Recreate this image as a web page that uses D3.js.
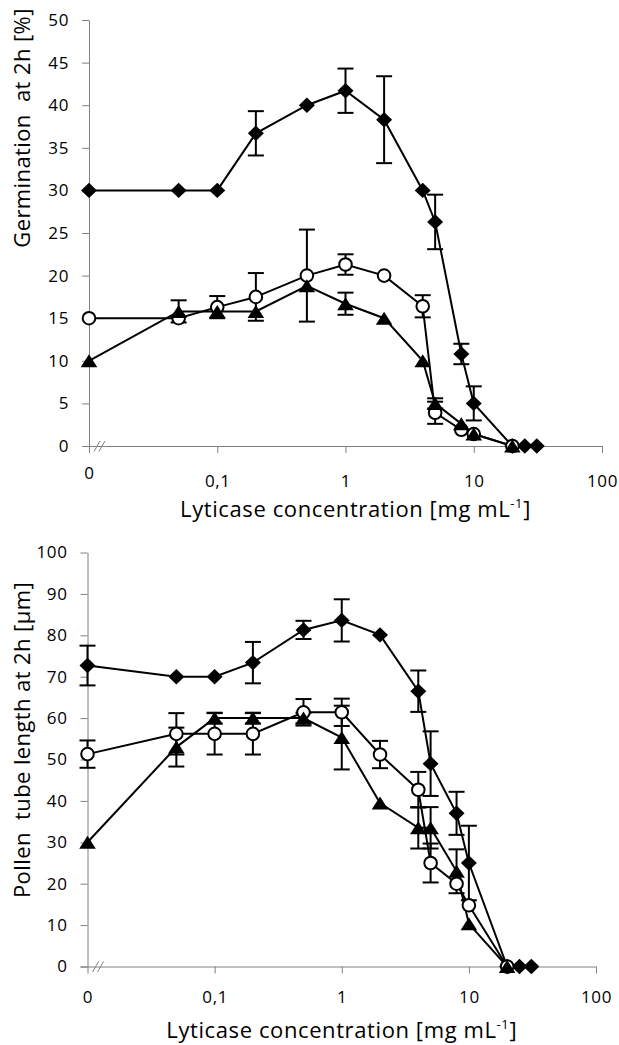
<!DOCTYPE html>
<html>
<head>
<meta charset="utf-8">
<script src="https://cdn.jsdelivr.net/npm/d3@7"></script>
<style>
  body { margin: 0; background: #fff; }
  svg { display: block; font-family: "Open Sans", sans-serif; }
</style>
</head>
<body>
<div id="chart"></div>
<script>
// concentrations in mg/mL (0 is drawn at the axis origin, left of the break)
const concFull = [0, 0.05, 0.1, 0.2, 0.5, 1, 2, 4, 5, 8, 10, 20, 25, 31];
const concShort = [0, 0.05, 0.1, 0.2, 0.5, 1, 2, 4, 5, 8, 10, 20];
const xTicks = [0, 0.1, 1, 10, 100];
const xTickLabels = ['0', '0,1', '1', '10', '100'];

// germination at 2h [%]
const germDiamond = [30, 30, 30, 36.7, 40, 41.7, 38.3, 30, 26.3, 10.8, 5, 0, 0, 0];
const germDiamondErr = [0, 0, 0, 2.6, 0, 2.6, 5.1, 0, 3.2, 1.2, 2, 0, 0, 0];
const germCircle = [15, 15, 16.3, 17.5, 20, 21.3, 20, 16.4, 3.9, 1.9, 1.4, 0];
const germCircleErr = [0, 0, 1.3, 2.8, 5.4, 1.2, 0, 1.3, 1.3, 0, 0, 0];
const germTriangle = [10, 15.8, 15.8, 15.8, 18.8, 16.7, 15, 10, 5, 2.6, 1.4, 0];
const germTriangleErr = [0, 1.3, 0, 0, 0, 1.3, 0, 0, 0.6, 0, 0, 0];
const germTicks = [0, 5, 10, 15, 20, 25, 30, 35, 40, 45, 50];

// pollen tube length at 2h [µm]
const tubeDiamond = [72.7, 70, 70, 73.4, 81.3, 83.6, 80.1, 66.5, 49, 37, 25, 0, 0, 0];
const tubeDiamondErr = [4.8, 0, 0, 5, 2.2, 5.1, 0, 5, 7.8, 5.2, 9, 0, 0, 0];
const tubeCircle = [51.3, 56.2, 56.2, 56.2, 61.4, 61.4, 51.2, 42.7, 25, 20, 14.8, 0];
const tubeCircleErr = [3.3, 5, 5, 5, 3.2, 3.3, 3.3, 4.3, 4.7, 0, 0, 0];
const tubeTriangle = [30, 53, 60, 60, 60, 55.3, 39.5, 33.5, 33.5, 23, 10.3, 0];
const tubeTriangleErr = [0, 4.7, 1.3, 1.3, 1.3, 7.7, 0, 5, 5, 5.3, 0, 0];
const tubeTicks = [0, 10, 20, 30, 40, 50, 60, 70, 80, 90, 100];

const width = 619, height = 1045;
const axisColor = '#808080';

const svg = d3.select('#chart').append('svg')
    .attr('width', width)
    .attr('height', height);

function zeroPos(v) { return v === 0 ? 0.01 : v; }

function drawPanel(opt) {
    const x = d3.scaleLog().domain([0.01, 100]).range([opt.left, opt.right]);
    const y = d3.scaleLinear().domain([0, opt.yMax]).range([opt.bottom, opt.top]);
    const g = svg.append('g');

    // y axis
    const yAxis = d3.axisLeft(y).tickValues(opt.yTicks).tickSize(7).tickSizeOuter(0).tickPadding(13);
    const ya = g.append('g').attr('transform', `translate(${opt.left},0)`).call(yAxis);
    ya.select('.domain').attr('stroke', axisColor);
    ya.selectAll('.tick line').attr('stroke', axisColor);
    ya.selectAll('.tick text').attr('font-size', 17).attr('fill', '#000')
        .attr('letter-spacing', 0.6)
        .attr('font-family', '"Open Sans", sans-serif');

    // x axis
    const xAxis = d3.axisBottom(x).tickValues(xTicks.map(zeroPos)).tickSize(7).tickSizeOuter(0)
        .tickFormat((d, i) => xTickLabels[i]);
    const xa = g.append('g').attr('transform', `translate(0,${opt.bottom})`).call(xAxis);
    xa.select('.domain').attr('stroke', axisColor).attr('d', `M${opt.left - 7},0.5H${opt.right}`);
    xa.selectAll('.tick line').attr('stroke', axisColor);
    xa.selectAll('.tick text').attr('font-size', 17).attr('fill', '#000')
        .attr('letter-spacing', 0.6)
        .attr('font-family', '"Open Sans", sans-serif')
        .attr('dy', null)
        .attr('y', (d, i) => i === 0 ? opt.zeroLabelY : opt.labelY);

    // axis break marks
    [8, 13].forEach(dx => {
        g.append('line')
            .attr('x1', opt.left + dx - 3).attr('y1', opt.bottom + 5.5)
            .attr('x2', opt.left + dx + 3).attr('y2', opt.bottom - 5)
            .attr('stroke', axisColor).attr('stroke-width', 1);
    });

    // titles
    g.append('text')
        .attr('x', (opt.left + opt.right) / 2 + opt.xTitleShift)
        .attr('y', opt.xTitleY)
        .attr('text-anchor', 'middle')
        .attr('font-size', 22)
        .attr('letter-spacing', 0.6)
        .html('Lyticase concentration [mg mL<tspan dy="-9" font-size="13">-1</tspan><tspan dy="9">]</tspan>');

    g.append('text')
        .attr('transform', `translate(${opt.yTitleX},${opt.yTitleY}) rotate(-90)`)
        .attr('text-anchor', 'middle')
        .attr('font-size', 22)
        .attr('letter-spacing', 0.4)
        .attr('xml:space', 'preserve')
        .text(opt.yTitle);

    const series = opt.series;

    // error bars
    series.forEach(s => {
        const pts = s.xs.map((c, i) => ({ c: c, v: s.ys[i], e: s.errs[i] })).filter(p => p.e > 0);
        const eb = g.append('g').attr('stroke', '#000').attr('stroke-width', 2);
        pts.forEach(p => {
            const cx = x(zeroPos(p.c));
            const y1 = y(p.v + p.e), y2 = y(p.v - p.e);
            eb.append('line').attr('x1', cx).attr('x2', cx).attr('y1', y1).attr('y2', y2);
            eb.append('line').attr('x1', cx - 8).attr('x2', cx + 8).attr('y1', y1).attr('y2', y1);
            eb.append('line').attr('x1', cx - 8).attr('x2', cx + 8).attr('y1', y2).attr('y2', y2);
        });
    });

    // lines
    const line = d3.line().x(d => x(zeroPos(d[0]))).y(d => y(d[1]));
    series.forEach(s => {
        g.append('path')
            .attr('d', line(s.xs.map((c, i) => [c, s.ys[i]])))
            .attr('fill', 'none').attr('stroke', '#000').attr('stroke-width', 2);
    });

    // markers
    series.forEach(s => {
        const mg = g.append('g');
        s.xs.forEach((c, i) => {
            const cx = x(zeroPos(c)), cy = y(s.ys[i]);
            if (s.shape === 'diamond') {
                mg.append('path')
                    .attr('d', `M${cx},${cy - 7.7}L${cx + 8},${cy}L${cx},${cy + 7.7}L${cx - 8},${cy}Z`)
                    .attr('fill', '#000');
            } else if (s.shape === 'circle') {
                mg.append('circle').attr('cx', cx).attr('cy', cy).attr('r', 6.3)
                    .attr('fill', '#fff').attr('stroke', '#000').attr('stroke-width', 2);
            } else {
                mg.append('path')
                    .attr('d', `M${cx},${cy - 6.5}L${cx + 8.3},${cy + 6.5}L${cx - 8.3},${cy + 6.5}Z`)
                    .attr('fill', '#000');
            }
        });
    });
}

drawPanel({
    left: 89, right: 602, top: 20, bottom: 446, yMax: 50,
    yTicks: germTicks, labelY: 41, zeroLabelY: 33,
    xTitleY: 517, xTitleShift: 10,
    yTitle: 'Germination  at 2h [%]', yTitleX: 30, yTitleY: 128,
    series: [
        { shape: 'diamond', xs: concFull, ys: germDiamond, errs: germDiamondErr },
        { shape: 'circle', xs: concShort, ys: germCircle, errs: germCircleErr },
        { shape: 'triangle', xs: concShort, ys: germTriangle, errs: germTriangleErr }
    ]
});

drawPanel({
    left: 87.5, right: 596, top: 552.5, bottom: 966.5, yMax: 100,
    yTicks: tubeTicks, labelY: 36, zeroLabelY: 36,
    xTitleY: 1038, xTitleShift: 0,
    yTitle: 'Pollen  tube length at 2h [µm]', yTitleX: 30, yTitleY: 740,
    series: [
        { shape: 'diamond', xs: concFull, ys: tubeDiamond, errs: tubeDiamondErr },
        { shape: 'circle', xs: concShort, ys: tubeCircle, errs: tubeCircleErr },
        { shape: 'triangle', xs: concShort, ys: tubeTriangle, errs: tubeTriangleErr }
    ]
});
</script>
</body>
</html>
